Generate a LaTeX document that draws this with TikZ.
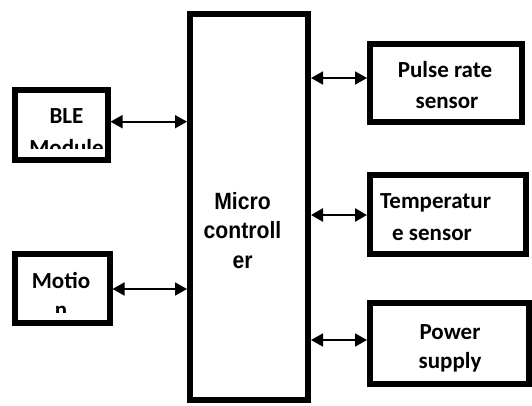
\documentclass[tikz,border=0pt]{standalone}
\usepackage{fontspec}
\usepackage{graphicx}
\setmainfont{Carlito}
\newfontfamily\arialfont{Liberation Sans}
\usetikzlibrary{arrows.meta}
\begin{document}
\begin{tikzpicture}[x=1pt,y=-1pt,
  blk/.style={draw=black,line width=6pt,rectangle,inner sep=0pt,fill=white},
  lbl/.style={anchor=base,inner sep=0pt,font=\bfseries\fontsize{23}{28}\selectfont},
  mlbl/.style={anchor=base,inner sep=0pt,font=\arialfont\bfseries\fontsize{23.5}{28}\selectfont},
  biarrow/.style={line width=1.7pt,{Triangle[length=12pt,width=13pt]}-{Triangle[length=12pt,width=13pt]}},
  thickarrow/.style={biarrow,line width=2.6pt}]
\useasboundingbox[fill=white] (0,0) rectangle (532,405);
% boxes
\node[blk,minimum width=118pt,minimum height=386.5pt] (mc) at (249,206.75) {};
\node[blk,minimum width=92.5pt,minimum height=70pt] (ble) at (61.25,125) {};
\node[blk,minimum width=94.5pt,minimum height=69pt] (mot) at (62.25,288) {};
\node[blk,minimum width=151.5pt,minimum height=78pt] (pulse) at (445.75,82.5) {};
\node[blk,minimum width=156pt,minimum height=78.5pt] (temp) at (448,214.25) {};
\node[blk,minimum width=158.5pt,minimum height=81pt] (pow) at (449.25,343) {};
% texts
\node[mlbl] (mc1) at (242.5,209) {\scalebox{0.9}[1]{Micro}};
\node[mlbl] (mc2) at (242.5,238.5) {\scalebox{0.9}[1]{controll}};
\node[mlbl] (mc3) at (242.5,268) {\scalebox{0.9}[1]{er}};
\begin{scope}
  \clip (18,93) rectangle (105,148);
  \node[lbl] (ble1) at (66.5,123) {BLE};
  \node[lbl] (ble2) at (66.5,155) {Module};
\end{scope}
\begin{scope}
  \clip (18,257) rectangle (106,312);
  \node[lbl] (mot1) at (61,288) {Motio};
  \node[lbl] (mot2) at (61,317) {n};
\end{scope}
\node[lbl] (pulse1) at (445,77) {Pulse rate};
\node[lbl] (pulse2) at (447,108) {sensor};
\node[lbl] (temp1) at (435.5,208) {Temperatur};
\node[lbl] (temp2) at (432,240) {e sensor};
\begin{scope}
  \clip (373,306) rectangle (525,371);
  \node[lbl] (pow1) at (450,339) {Power};
  \node[lbl] (pow2) at (450,368) {supply};
\end{scope}
% connectors
\draw[biarrow] ([yshift=3.3pt]ble.east) -- ([yshift=3.3pt]mc.west |- ble.east);
\draw[biarrow] ([yshift=-1pt]mot.east) -- ([yshift=-1pt]mc.west |- mot.east);
\draw[biarrow] ([yshift=4.5pt]mc.east |- pulse.west) -- ([yshift=4.5pt]pulse.west);
\draw[thickarrow] ([yshift=-0.75pt]mc.east |- temp.west) -- ([yshift=-0.75pt]temp.west);
\draw[biarrow] ([yshift=3pt]mc.east |- pow.west) -- ([yshift=3pt]pow.west);
\end{tikzpicture}
\end{document}
